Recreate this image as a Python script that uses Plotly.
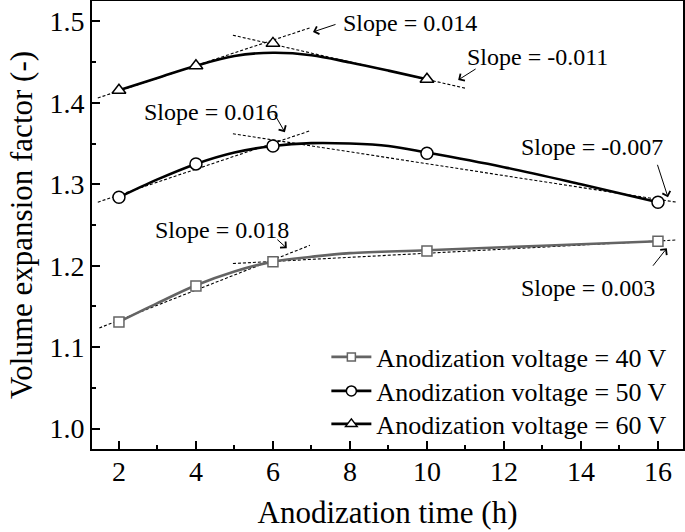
import plotly.graph_objects as go

# ---- data ----
time_h = [2, 4, 6, 10, 16]
v40 = [1.131, 1.175, 1.205, 1.218, 1.230]
v50 = [1.284, 1.325, 1.347, 1.338, 1.278]
time_60 = [2, 4, 6, 10]
v60 = [1.4155, 1.4455, 1.473, 1.429]

# smooth fitted curves
fit40_x = [2, 3, 4, 5, 6, 7, 8, 10, 13, 16]
fit40_y = [1.131, 1.154, 1.176, 1.193, 1.205, 1.211, 1.2155, 1.219, 1.2245, 1.230]
fit50_x = [2, 3, 4, 5, 6, 7, 8, 9, 10, 12, 14, 16]
fit50_y = [1.284, 1.306, 1.325, 1.339, 1.347, 1.3505, 1.350, 1.347, 1.339, 1.321, 1.300, 1.278]
fit60_x = [2, 3, 4, 5, 6, 7, 8, 9, 10]
fit60_y = [1.4155, 1.4305, 1.4455, 1.4575, 1.4615, 1.4585, 1.4495, 1.4395, 1.429]

# tangent (slope) lines: start/end points
tan_x0 = [1.45, 4.96, 1.45, 4.96, 1.49, 4.96]
tan_y0 = [1.406, 1.483, 1.278, 1.362, 1.1236, 1.2027]
tan_x1 = [6.96, 10.99, 6.96, 16.48, 6.96, 16.48]
tan_y1 = [1.492, 1.418, 1.3656, 1.278, 1.225, 1.2316]

# slope labels: text, label centre, arrow head, arrow tail offset (px)
slope_text = ["Slope = 0.014", "Slope = -0.011", "Slope = 0.016",
              "Slope = -0.007", "Slope = 0.018", "Slope = 0.003"]
label_x = [9.56, 12.88, 4.39, 14.29, 4.675, 14.18]
label_y = [1.498, 1.456, 1.3886, 1.3456, 1.2435, 1.1724]
head_x = [7.04, 10.81, 6.31, 16.26, 6.36, 16.23]
head_y = [1.487, 1.428, 1.364, 1.284, 1.2215, 1.2215]
tail_dx = [24, 19, -11, -11, -11, -15]
tail_dy = [-8, -12, -19, -34, -10, 19]

series_names = ["Anodization voltage = 40 V", "Anodization voltage = 50 V",
                "Anodization voltage = 60 V"]

FONT = "Liberation Serif, Times New Roman, serif"
GRAY = "rgb(100,100,100)"
BLACK = "black"

fig = go.Figure()

# tangent dashed lines
for x0, y0, x1, y1 in zip(tan_x0, tan_y0, tan_x1, tan_y1):
    fig.add_trace(go.Scatter(x=[x0, x1], y=[y0, y1], mode="lines",
                             line=dict(color="black", width=1.1, dash="3px,2px"),
                             showlegend=False, hoverinfo="skip"))

# fitted curves
for fx, fy, col in [(fit40_x, fit40_y, GRAY), (fit50_x, fit50_y, BLACK), (fit60_x, fit60_y, BLACK)]:
    fig.add_trace(go.Scatter(x=fx, y=fy, mode="lines",
                             line=dict(color=col, width=2.6, shape="spline", smoothing=1.0),
                             showlegend=False, hoverinfo="skip"))

# markers
specs = [(time_h, v40, "square", GRAY, 10),
         (time_h, v50, "circle", BLACK, 12),
         (time_60, v60, "triangle-up", BLACK, 12)]
for (xs, ys, sym, col, sz) in specs:
    fig.add_trace(go.Scatter(x=xs, y=ys, mode="markers",
                             marker=dict(symbol=sym, size=sz, color="white",
                                         line=dict(color=col, width=1.5)),
                             showlegend=False))

# legend entries (one legend per row for exact row placement)
legend_names = ["legend", "legend2", "legend3"]
for name, lg, (xs, ys, sym, col, sz) in zip(series_names, legend_names, specs):
    fig.add_trace(go.Scatter(x=[None], y=[None], mode="lines+markers", name=name,
                             legend=lg,
                             line=dict(color=col, width=2.6),
                             marker=dict(symbol=sym, size=sz - 2, color="white",
                                         line=dict(color=col, width=1.5))))

annotations = []
for t, lx, ly in zip(slope_text, label_x, label_y):
    annotations.append(dict(x=lx, y=ly, xref="x", yref="y", text=t, showarrow=False,
                            font=dict(family=FONT, size=24, color="black")))
for hx, hy, dx, dy in zip(head_x, head_y, tail_dx, tail_dy):
    annotations.append(dict(x=hx, y=hy, xref="x", yref="y", text="", showarrow=True,
                            ax=dx, ay=dy, arrowhead=4, arrowsize=1.6, arrowwidth=1,
                            arrowcolor="black"))

legend_style = dict(xanchor="right", yanchor="middle", bgcolor="rgba(0,0,0,0)",
                    font=dict(family=FONT, size=26), itemwidth=40)

fig.update_layout(
    width=685, height=532,
    margin=dict(l=92, r=2, t=1, b=83),
    paper_bgcolor="white", plot_bgcolor="white",
    font=dict(family=FONT, color="black"),
    annotations=annotations,
    legend=dict(x=0.982, y=0.2054, **legend_style),
    legend2=dict(x=0.982, y=0.1295, **legend_style),
    legend3=dict(x=0.982, y=0.0558, **legend_style),
    xaxis=dict(range=[1.3, 16.65], tickmode="linear", tick0=2, dtick=2,
               ticks="inside", ticklen=8, tickwidth=2, tickcolor="black",
               minor=dict(ticks="inside", dtick=1, ticklen=4, tickwidth=2, tickcolor="black"),
               showline=True, linewidth=2, linecolor="black", mirror=True,
               showgrid=False, zeroline=False, automargin=False,
               ticklabelstandoff=-4,
               tickfont=dict(family=FONT, size=28),
               title=dict(text="Anodization time (h)", font=dict(family=FONT, size=31), standoff=16)),
    yaxis=dict(range=[0.975, 1.525], tickmode="linear", tick0=1.0, dtick=0.1,
               tickformat=".1f",
               ticks="inside", ticklen=8, tickwidth=2, tickcolor="black",
               minor=dict(ticks="inside", dtick=0.05, ticklen=4, tickwidth=2, tickcolor="black"),
               showline=True, linewidth=2, linecolor="black", mirror=True,
               showgrid=False, zeroline=False, automargin=False,
               tickfont=dict(family=FONT, size=28),
               title=dict(text="Volume expansion factor (-)", font=dict(family=FONT, size=31), standoff=8)),
)

fig.write_html("out.html", config={"displayModeBar": False},
               post_script="document.body.style.margin='0';document.body.style.overflow='hidden';")
